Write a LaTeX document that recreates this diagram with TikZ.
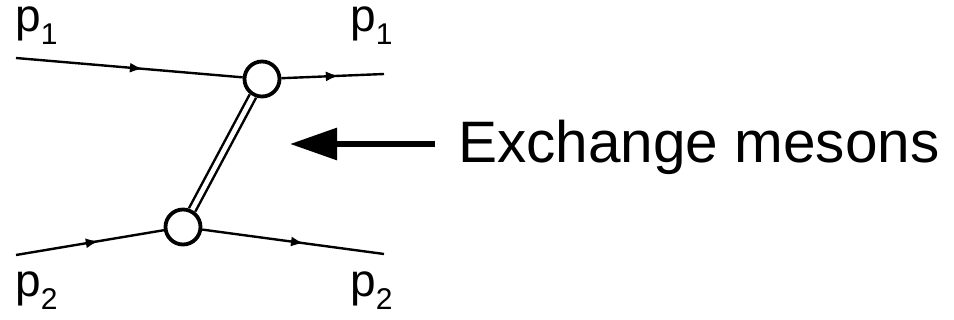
\documentclass[tikz,border=0pt]{standalone}
\usepackage{fontspec}
\setmainfont{Liberation Sans}
\usetikzlibrary{arrows.meta,decorations.markings}

\begin{document}
\begin{tikzpicture}[x=1pt,y=-1pt,>=Latex]
 \tikzset{vertex/.style={draw,circle,line width=3.8pt,minimum size=35pt,inner sep=0pt,fill=white},
          fermion/.style={line width=2.4pt,decoration={markings,mark=at position 0.56 with {\arrow{Latex[length=13pt,width=10pt]}}},postaction={decorate}},
          meson/.style={double=white,line width=2.5pt,double distance=4.6pt},
          plabel/.style={anchor=base west,inner sep=0pt,font=\fontsize{46}{46}\selectfont},
          big/.style={line width=6pt,-{Triangle[length=47pt,width=31pt]}}}
 \useasboundingbox (0,0) rectangle (954,320);
 \coordinate (in1) at (16,58);
 \coordinate (out1) at (384,74);
 \coordinate (in2) at (16,255);
 \coordinate (out2) at (384,254);
 \node[vertex] (v1) at (262,79) {};
 \node[vertex] (v2) at (183,227) {};
 \draw[meson] (v2) -- (v1);
 \draw[fermion] (in1) -- (v1);
 \draw[fermion] (v1) -- (out1);
 \draw[fermion] (in2) -- (v2);
 \draw[fermion] (v2) -- (out2);
 \node[plabel] (pa) at (15,32) {p\raisebox{-0.28em}{\fontsize{30}{30}\selectfont 1}};
 \node[plabel] (pb) at (350,32) {p\raisebox{-0.28em}{\fontsize{30}{30}\selectfont 1}};
 \node[plabel] (pc) at (15,297) {p\raisebox{-0.28em}{\fontsize{30}{30}\selectfont 2}};
 \node[plabel] (pd) at (350,297) {p\raisebox{-0.28em}{\fontsize{30}{30}\selectfont 2}};
 \node[anchor=base west,inner sep=0pt,font=\fontsize{58.5}{58.5}\selectfont] (lbl) at (458,163) {Exchange mesons};
 \coordinate (tail) at (435,144);
 \coordinate (tip) at (290,144);
 \draw[big] (tail) -- (tip);
\end{tikzpicture}
\end{document}
